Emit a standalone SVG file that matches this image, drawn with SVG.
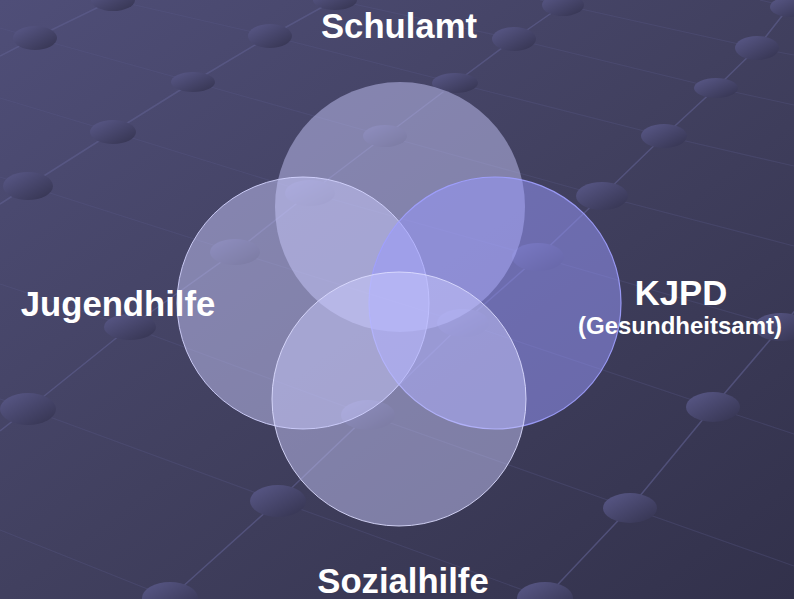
<svg xmlns="http://www.w3.org/2000/svg" width="794" height="599" viewBox="0 0 794 599">
  <defs>
    <linearGradient id="bg" x1="0" y1="0" x2="1" y2="1">
      <stop offset="0" stop-color="#4f4e78"/>
      <stop offset="0.5" stop-color="#41405f"/>
      <stop offset="1" stop-color="#32314b"/>
    </linearGradient>
    <linearGradient id="bead" x1="0" y1="0" x2="1" y2="1">
      <stop offset="0" stop-color="#5a5989"/>
      <stop offset="1" stop-color="#34334f"/>
    </linearGradient>
    <style>
      .rail { fill: none; stroke: #5e5d8e; stroke-width: 1.5; stroke-opacity: 0.65; }
      .row { fill: none; stroke: #5a5988; stroke-width: 1.1; stroke-opacity: 0.32; }
      .bead { fill: url(#bead); }
      .soft { fill: #ccccff; fill-opacity: 0.47; }
      .blue { fill: #9999ff; fill-opacity: 0.5; }
      .lbl { font-family: "Liberation Sans", Arial, sans-serif; font-weight: bold; fill: #ffffff; text-anchor: middle; }
    </style>
  </defs>

  <rect x="0" y="0" width="794" height="599" fill="url(#bg)"/>

  <g id="grid">
    <!-- cross rows -->
    <polyline class="row" points="0,530 170,598 182,604"/>
    <polyline class="row" points="0,399 28,409 278,501 545,598 552,601"/>
    <polyline class="row" points="0,284 130,327 368,415 630,508 794,566"/>
    <polyline class="row" points="0,177 28,186 235,252 463,323 713,407 794,434"/>
    <polyline class="row" points="0,98 113,132 310,193 538,257 781,327 794,331"/>
    <polyline class="row" points="0,28 35,38 193,82 385,136 602,196 794,246"/>
    <polyline class="row" points="113,0 270,36 455,83 664,136 794,166"/>
    <polyline class="row" points="335,0 514,39 716,88 794,105"/>
    <polyline class="row" points="540,0 563,5 757,48 794,55"/>
    <polyline class="row" points="760,0 789,7 794,8"/>
    <!-- rails -->
    <polyline class="rail" points="0,56 35,38 113,0 125,-6"/>
    <polyline class="rail" points="0,204 28,186 113,132 193,82 270,36 335,0 350,-9"/>
    <polyline class="rail" points="0,431 28,409 130,327 235,252 310,193 385,136 455,83 514,39 563,5 572,-2"/>
    <polyline class="rail" points="150,615 170,598 278,501 368,415 463,323 538,257 602,196 664,136 716,88 757,48 789,7 800,-6"/>
    <polyline class="rail" points="530,615 545,598 630,508 713,407 781,327 800,305"/>
    <!-- beads -->
    <ellipse class="bead" cx="35" cy="38" rx="22" ry="12"/>
    <ellipse class="bead" cx="113" cy="0" rx="22" ry="11"/>
    <ellipse class="bead" cx="28" cy="186" rx="25" ry="14"/>
    <ellipse class="bead" cx="113" cy="132" rx="23" ry="12"/>
    <ellipse class="bead" cx="193" cy="82" rx="22" ry="10"/>
    <ellipse class="bead" cx="270" cy="36" rx="22" ry="12"/>
    <ellipse class="bead" cx="335" cy="0" rx="22" ry="10"/>
    <ellipse class="bead" cx="28" cy="409" rx="28" ry="16"/>
    <ellipse class="bead" cx="130" cy="327" rx="26" ry="13"/>
    <ellipse class="bead" cx="235" cy="252" rx="25" ry="13"/>
    <ellipse class="bead" cx="310" cy="193" rx="25" ry="13"/>
    <ellipse class="bead" cx="385" cy="136" rx="22" ry="11"/>
    <ellipse class="bead" cx="455" cy="83" rx="23" ry="10"/>
    <ellipse class="bead" cx="514" cy="39" rx="22" ry="12"/>
    <ellipse class="bead" cx="563" cy="5" rx="21" ry="11"/>
    <ellipse class="bead" cx="170" cy="598" rx="28" ry="16"/>
    <ellipse class="bead" cx="278" cy="501" rx="28" ry="16"/>
    <ellipse class="bead" cx="368" cy="415" rx="27" ry="15"/>
    <ellipse class="bead" cx="463" cy="323" rx="26" ry="14"/>
    <ellipse class="bead" cx="538" cy="257" rx="26" ry="14"/>
    <ellipse class="bead" cx="602" cy="196" rx="26" ry="14"/>
    <ellipse class="bead" cx="664" cy="136" rx="23" ry="12"/>
    <ellipse class="bead" cx="716" cy="88" rx="22" ry="10"/>
    <ellipse class="bead" cx="757" cy="48" rx="22" ry="12"/>
    <ellipse class="bead" cx="790" cy="7" rx="20" ry="10"/>
    <ellipse class="bead" cx="545" cy="598" rx="28" ry="16"/>
    <ellipse class="bead" cx="630" cy="508" rx="27" ry="15"/>
    <ellipse class="bead" cx="713" cy="407" rx="27" ry="15"/>
    <ellipse class="bead" cx="781" cy="327" rx="27" ry="14"/>
  </g>

  <g id="connectors"></g>

  <g id="schulamt">
    <circle class="soft" cx="400" cy="207" r="125"/>
    <text class="lbl" x="399" y="38" font-size="34.67">Schulamt</text>
  </g>
  <g id="jugendhilfe">
    <circle class="soft" cx="303" cy="303" r="126" stroke="#d4d4ff" stroke-width="1" stroke-opacity="0.9"/>
    <text class="lbl" x="118" y="316" font-size="34.67">Jugendhilfe</text>
  </g>
  <g id="kjpd">
    <circle class="blue" cx="495" cy="303" r="126" stroke="#a0a0ff" stroke-width="1.2" stroke-opacity="0.9"/>
    <text class="lbl" x="681" y="305" font-size="34.67">KJPD</text>
    <text class="lbl" x="680" y="334" font-size="24">(Gesundheitsamt)</text>
  </g>
  <g id="sozialhilfe">
    <circle class="soft" cx="399" cy="399" r="127" stroke="#dcdcff" stroke-width="1" stroke-opacity="0.9"/>
    <text class="lbl" x="403" y="593" font-size="34.67">Sozialhilfe</text>
  </g>
</svg>
